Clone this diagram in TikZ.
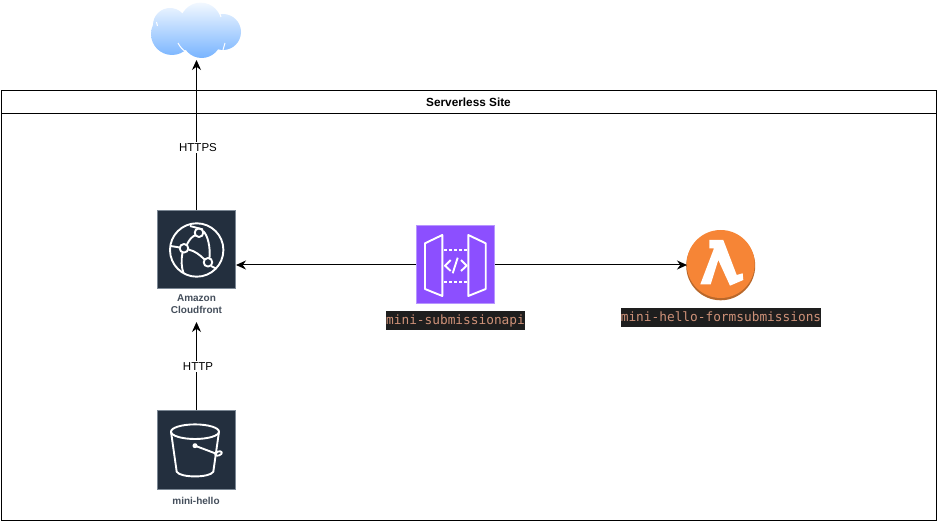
\documentclass[tikz,border=0pt]{standalone}
\usepackage{fontspec}
\setmainfont{Liberation Sans}
\setmonofont{DejaVu Sans Mono}
\usetikzlibrary{arrows.meta}
\definecolor{awsnavy}{HTML}{232F3E}
\definecolor{awsedge}{HTML}{7B8794}
\definecolor{apipurple}{HTML}{8C4FFF}
\definecolor{apiedge}{HTML}{B795FF}
\definecolor{lambdaorange}{HTML}{F68536}
\definecolor{lambdadark}{HTML}{B9682B}
\definecolor{codebg}{HTML}{1E1E1E}
\definecolor{codefg}{HTML}{CE9178}
\definecolor{cloudtop}{HTML}{F2F8FF}
\definecolor{cloudmid}{HTML}{B9D8FF}
\definecolor{cloudbot}{HTML}{78B4FF}
\tikzset{
  iconbox/.style={draw=awsedge, fill=awsnavy, line width=1pt, minimum size=78pt, inner sep=0pt},
  glyph/.style={draw=white, line width=1.9pt, line join=round},
  conn/.style={draw=black, line width=1pt, -{Stealth[length=10pt,width=9pt]}},
  edgelabel/.style={fill=white, font=\fontsize{11.5}{13}\selectfont, inner sep=1.5pt, xshift=1.5pt},
  iconlabel/.style={font=\fontsize{10}{12}\selectfont\bfseries, text=awsnavy!85!white, align=center, inner sep=0pt},
  codelabel/.style={fill=codebg, text=codefg, font=\fontsize{12.8}{14}\ttfamily, inner sep=0pt, minimum height=19pt, text height=10.5pt, text depth=2.5pt},
}
\begin{document}
\begin{tikzpicture}[x=1pt, y=-1pt]
\useasboundingbox (0,0) rectangle (938,521);

\draw[line width=1pt] (1,91) rectangle (936.5,520);
\draw[line width=1pt] (1,114) -- (936.5,114);
\node[font=\fontsize{11.8}{13}\selectfont\bfseries] (title) at (468.5,102.5) {Serverless Site};

% cloud
\shade[top color=cloudtop, middle color=cloudmid, bottom color=cloudbot]
  (200.7,23.3) circle (20.7) (223,32) circle (18) (201.7,38.3) circle (19.7)
  (172,34) circle (21) (170,25) circle (17) (190,30) circle (18);
\draw[white, line width=1pt] (178,43) .. controls (180,47) and (183,50) .. (186,52);
\draw[white, line width=1pt] (225,43) -- (223,50);
\draw[white, line width=1pt] (156.5,22) -- (157.5,26);
\draw[white, line width=1pt] (220,14) -- (221,17);
\coordinate (cloud) at (196.5,60);

% icons
\node[iconbox] (cloudfront) at (196.5,250) {};
\node[iconbox] (bucket) at (196.5,450) {};
\node[iconbox, draw=apiedge, fill=apipurple] (api) at (455.5,265) {};
\fill[lambdadark] (720.7,265.8) circle (34.5);
\fill[lambdaorange] (720.7,264) circle (34);
\coordinate (lambda) at (687,265);

\node[iconlabel] (cloudfrontlabel) at (196.5,304.5) {Amazon\\Cloudfront};
\node[iconlabel] (bucketlabel) at (196,500.5) {mini-hello};
\node[codelabel] (apilabel) at (455.5,320.5) {mini-submissionapi};
\node[codelabel] (lambdalabel) at (721,317.5) {mini-hello-formsubmissions};
\coordinate (cfbelow) at (196.5,322);

% connectors
\draw[conn] (cloudfront) -- node[edgelabel, pos=0.42] (https) {HTTPS} (cloud);
\draw[conn] (bucket) -- node[edgelabel] (http) {HTTP} (cfbelow);
\draw[conn] (api.west) -- (cloudfront.east |- api.west);
\draw[conn] (api.east) -- (lambda);

% cloudfront glyph
\draw[glyph] (196.7,250) circle (26.7);
\draw[glyph] (170.5,246) -- (180,247.5);
\draw[glyph] (188.5,249.5) .. controls (195,251) and (200,255) .. (204.5,259.5);
\draw[glyph] (187,244.5) .. controls (189,240) and (192,236.5) .. (195.5,235);
\draw[glyph] (203,231) .. controls (208,235) and (210.5,248) .. (209.5,258);
\draw[glyph] (203,229.5) -- (190,226);
\draw[glyph] (182.5,252.5) .. controls (181,260) and (181.5,268) .. (183.5,273);
\draw[glyph] (211,266) -- (216,268.5);
\draw[glyph] (199,232.7) circle (4.3) (184,248.3) circle (4.3) (208,262.3) circle (4.3);

% bucket glyph
\draw[glyph] (195,431.7) ellipse (24 and 7.3);
\draw[glyph] (171,431.7) -- (176.7,471.7) .. controls (180,478) and (210,478) .. (213.3,471.7) -- (219,431.7);
\draw[glyph] (195,445.7) -- (217,454);
\draw[glyph, rotate around={20:(218.5,453.5)}] (218.5,453.5) ellipse (3.5 and 2);
\fill[white] (195,445.7) circle (2.5);

% api glyph
\draw[glyph] (442.3,235) -- (425,243.3) -- (425,289) -- (442.3,296) -- cycle;
\draw[glyph] (468.3,235) -- (485.7,243.3) -- (485.7,289) -- (468.3,296) -- cycle;
\draw[glyph, dash pattern=on 3pt off 2pt] (444,250) -- (467,250);
\draw[glyph, dash pattern=on 3pt off 2pt] (444,281.7) -- (467,281.7);
\draw[glyph] (450.7,260) -- (445,265.7) -- (450.7,271);
\draw[glyph] (461,260) -- (466.7,265.7) -- (461,271);
\draw[glyph] (457.7,257.7) -- (452.7,273.3);

% lambda glyph
\fill[white] (709.3,240) -- (723.3,240) -- (736.7,275) -- (742.7,273.3) -- (743.3,280)
  -- (730,285.7) -- (718.3,260) -- (710.7,284.3) -- (700.3,284.3) -- (714,248.3) -- (709.3,248.3) -- cycle;
\end{tikzpicture}
\end{document}
